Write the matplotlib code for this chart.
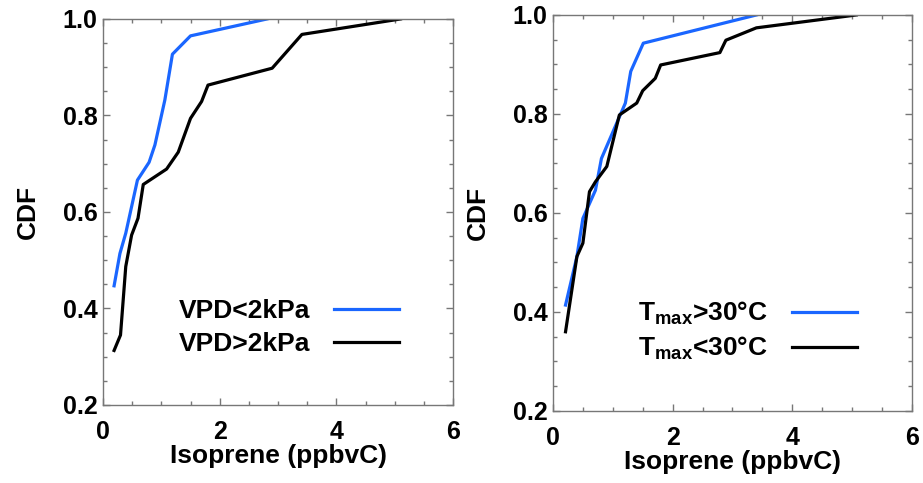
import matplotlib
matplotlib.use("Agg")
import matplotlib.pyplot as plt
from matplotlib.ticker import MultipleLocator, FormatStrFormatter

plt.rcParams['font.family'] = ['Liberation Sans', 'DejaVu Sans']
plt.rcParams['font.weight'] = 'bold'
plt.rcParams['mathtext.fontset'] = 'custom'
plt.rcParams['mathtext.bf'] = 'Liberation Sans:bold'
plt.rcParams['mathtext.rm'] = 'Liberation Sans:bold'
plt.rcParams['mathtext.default'] = 'bf'

# left panel: VPD split
vpd_low_x = [0.19, 0.29, 0.39, 0.59, 0.79, 0.89, 1.06, 1.19, 1.50, 2.81]
vpd_low_y = [0.447, 0.514, 0.556, 0.666, 0.703, 0.739, 0.832, 0.927, 0.965, 1.0]
vpd_high_x = [0.19, 0.30, 0.39, 0.49, 0.60, 0.69, 1.09, 1.29, 1.50, 1.69, 1.80, 2.90, 3.41, 5.10]
vpd_high_y = [0.313, 0.345, 0.487, 0.552, 0.587, 0.657, 0.689, 0.724, 0.794, 0.829, 0.863, 0.898, 0.968, 1.0]

# right panel: Tmax split
t_hot_x = [0.21, 0.40, 0.50, 0.71, 0.81, 1.21, 1.30, 1.51, 3.40]
t_hot_y = [0.414, 0.512, 0.589, 0.646, 0.710, 0.822, 0.886, 0.943, 1.0]
t_cool_x = [0.21, 0.40, 0.50, 0.61, 0.71, 0.90, 1.11, 1.40, 1.50, 1.71, 1.80, 2.79, 2.89, 3.40, 5.07]
t_cool_y = [0.360, 0.512, 0.539, 0.643, 0.663, 0.694, 0.798, 0.822, 0.847, 0.872, 0.899, 0.924, 0.949, 0.974, 1.0]

blue = '#1a66ff'
tick_fs = 18
lab_fs = 19

fig = plt.figure(figsize=(9.23, 4.83), dpi=100)
ax1 = fig.add_axes([0.1116, 0.1615, 0.3792, 0.7992])
ax2 = fig.add_axes([0.5991, 0.1491, 0.3889, 0.8199])


def style(ax, ylab_x):
    ax.set_xlim(0, 6)
    ax.set_ylim(0.2, 1.0)
    ax.xaxis.set_major_locator(MultipleLocator(2))
    ax.xaxis.set_minor_locator(MultipleLocator(0.5))
    ax.yaxis.set_major_locator(MultipleLocator(0.2))
    ax.yaxis.set_minor_locator(MultipleLocator(0.05))
    ax.yaxis.set_major_formatter(FormatStrFormatter('%.1f'))
    ax.tick_params(which='both', direction='in', top=True, right=True,
                   color='#777777', width=1)
    ax.tick_params(which='major', length=5, labelsize=tick_fs)
    ax.tick_params(axis='x', which='major', pad=11)
    ax.tick_params(axis='y', which='major', pad=4)
    ax.tick_params(which='minor', length=3)
    for s in ax.spines.values():
        s.set_color('#777777')
        s.set_linewidth(1)
    ax.set_xlabel('Isoprene (ppbvC)', fontsize=lab_fs, fontweight='bold', labelpad=0)
    ax.set_ylabel('CDF', fontsize=lab_fs, fontweight='bold')
    ax.yaxis.set_label_coords(ylab_x, 0.5)


ax1.plot(vpd_low_x, vpd_low_y, color=blue, lw=2.3, label='VPD<2kPa')
ax1.plot(vpd_high_x, vpd_high_y, color='black', lw=2.3, label='VPD>2kPa')
style(ax1, -0.18)
ax1.legend(loc='center', bbox_to_anchor=(0.53, 0.201), frameon=False,
           markerfirst=False, fontsize=lab_fs, handlelength=2.46,
           handletextpad=0.91, labelspacing=0.33)

ax2.plot(t_hot_x, t_hot_y, color=blue, lw=2.3, label=r'T$_{max}$>30°C')
ax2.plot(t_cool_x, t_cool_y, color='black', lw=2.3, label=r'T$_{max}$<30°C')
style(ax2, -0.175)
ax2.legend(loc='center', bbox_to_anchor=(0.542, 0.202), frameon=False,
           markerfirst=False, fontsize=lab_fs, handlelength=2.46,
           handletextpad=0.91, labelspacing=0.3)

fig.savefig('out.png', dpi=100)
